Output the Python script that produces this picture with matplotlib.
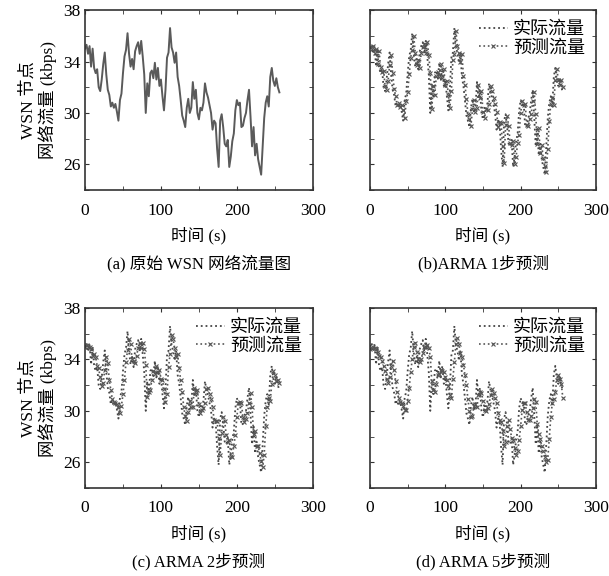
import numpy as np
import matplotlib
matplotlib.use("Agg")
import matplotlib.pyplot as plt
from matplotlib.ticker import MultipleLocator

plt.rcParams['font.family'] = ['Liberation Serif', 'Noto Sans CJK SC']
plt.rcParams['mathtext.fontset'] = 'cm'

# time axis (s)
time_s = list(range(0, 257, 2))

actual = [35.0, 35.3, 34.6, 35.2, 33.6, 35.0, 33.5, 33.1, 33.4, 32.0, 31.7, 32.6, 33.8, 34.7, 33.0, 31.8,
          31.4, 30.5, 30.8, 30.4, 30.7, 30.1, 29.4, 31.0, 31.5, 33.1, 34.4, 34.9, 36.2, 34.6, 33.6, 34.2,
          33.4, 34.8, 35.2, 35.5, 34.6, 35.6, 34.4, 33.0, 30.0, 32.3, 31.3, 33.1, 33.3, 32.7, 33.9, 32.6,
          33.5, 32.1, 32.6, 31.3, 30.2, 31.8, 34.3, 34.7, 36.6, 35.1, 34.7, 33.9, 34.7, 32.8, 32.1, 31.0,
          29.8, 29.4, 28.9, 30.4, 31.1, 30.0, 30.4, 32.4, 31.1, 31.8, 30.0, 29.5, 30.4, 30.2, 30.8, 32.3,
          31.6, 31.2, 30.6, 30.0, 28.7, 29.4, 29.2, 27.2, 25.8, 29.4, 29.9, 28.9, 27.6, 27.4, 27.9, 25.8,
          26.6, 27.8, 28.4, 30.2, 31.0, 30.6, 30.8, 28.9, 29.0, 29.6, 30.0, 31.0, 31.8, 29.7, 27.4, 28.9,
          26.7, 27.6, 26.4, 25.8, 25.2, 27.4, 29.6, 30.8, 31.3, 30.5, 32.8, 33.5, 32.5, 32.1, 32.7, 32.0,
          31.6]

pred_1step = [35.1, 35.0, 35.2, 34.7, 35.0, 33.8, 34.8, 33.6, 33.2, 33.3, 32.1, 31.8, 32.5, 33.7, 34.5, 33.1,
              31.9, 31.3, 30.6, 30.8, 30.5, 30.6, 30.2, 29.6, 30.9, 31.6, 33.0, 34.3, 34.9, 36.0, 34.7, 33.7,
              34.1, 33.5, 34.7, 35.1, 35.4, 34.7, 35.5, 34.5, 33.1, 30.3, 32.1, 31.4, 32.9, 33.2, 32.8, 33.8,
              32.7, 33.4, 32.2, 32.5, 31.4, 30.4, 31.7, 34.1, 34.6, 36.4, 35.2, 34.7, 34.0, 34.6, 32.9, 32.2,
              31.1, 29.9, 29.5, 29.0, 30.3, 31.0, 30.1, 30.4, 32.2, 31.2, 31.7, 30.1, 29.6, 30.3, 30.2, 30.7,
              32.1, 31.7, 31.2, 30.7, 30.1, 28.9, 29.3, 29.2, 27.4, 26.1, 29.1, 29.8, 29.0, 27.7, 27.5, 27.8,
              26.0, 26.6, 27.7, 28.3, 30.0, 30.9, 30.6, 30.7, 29.1, 29.0, 29.5, 29.9, 30.9, 31.6, 29.9, 27.6,
              28.8, 26.9, 27.5, 26.5, 25.9, 25.4, 27.2, 29.4, 30.7, 31.2, 30.6, 32.6, 33.4, 32.6, 32.2, 32.6,
              32.0]

pred_2step = [35.0, 35.1, 35.0, 35.0, 34.8, 34.3, 34.4, 34.2, 33.5, 33.3, 32.6, 31.9, 32.2, 33.2, 34.2, 33.7,
              32.4, 31.6, 30.9, 30.7, 30.6, 30.5, 30.3, 29.8, 30.4, 31.3, 32.4, 33.8, 34.7, 35.6, 35.2, 34.0,
              33.9, 33.7, 34.3, 34.9, 35.3, 34.9, 35.3, 34.8, 33.6, 31.1, 31.5, 31.6, 32.4, 33.1, 32.9, 33.5,
              33.0, 33.2, 32.5, 32.4, 31.7, 30.7, 31.3, 33.4, 34.4, 35.9, 35.6, 34.9, 34.2, 34.4, 33.3, 32.4,
              31.5, 30.3, 29.6, 29.2, 29.9, 30.8, 30.3, 30.3, 31.8, 31.4, 31.6, 30.5, 29.8, 30.1, 30.2, 30.6,
              31.7, 31.8, 31.3, 30.9, 30.3, 29.3, 29.2, 29.2, 27.9, 26.6, 28.3, 29.5, 29.2, 28.1, 27.6, 27.7,
              26.5, 26.4, 27.3, 28.1, 29.5, 30.6, 30.7, 30.6, 29.5, 29.1, 29.4, 29.8, 30.6, 31.4, 30.3, 28.2,
              28.4, 27.3, 27.3, 26.7, 26.1, 25.6, 26.6, 28.8, 30.3, 31.0, 30.8, 32.1, 33.1, 32.8, 32.3, 32.4,
              32.2]

pred_5step = [34.8, 34.9, 35.0, 34.9, 34.8, 34.6, 34.3, 34.2, 33.9, 33.5, 33.1, 32.5, 32.2, 32.6, 33.5, 33.9,
              33.2, 32.3, 31.5, 31.0, 30.7, 30.6, 30.4, 30.1, 30.1, 30.8, 31.8, 33.0, 34.0, 35.0, 35.3, 34.6,
              34.0, 33.8, 34.0, 34.5, 35.0, 35.0, 35.1, 34.9, 34.2, 32.3, 31.6, 31.5, 32.1, 32.8, 32.9, 33.2,
              33.1, 33.0, 32.6, 32.4, 31.9, 31.2, 31.0, 32.5, 33.8, 35.2, 35.7, 35.2, 34.5, 34.2, 33.6, 32.8,
              32.0, 30.9, 30.0, 29.5, 29.6, 30.4, 30.5, 30.3, 31.2, 31.5, 31.4, 30.8, 30.1, 30.0, 30.2, 30.5,
              31.2, 31.7, 31.4, 31.0, 30.6, 29.8, 29.3, 29.1, 28.4, 27.3, 27.6, 28.8, 29.3, 28.6, 27.9, 27.7,
              27.1, 26.6, 26.9, 27.7, 28.8, 30.1, 30.6, 30.6, 29.9, 29.3, 29.3, 29.6, 30.2, 30.9, 30.7, 29.0,
              28.2, 27.8, 27.3, 26.9, 26.4, 26.0, 26.2, 27.8, 29.5, 30.6, 30.9, 31.5, 32.4, 32.8, 32.5, 32.1,
              31.0]

x_ticks = [0, 100, 200, 300]
y_ticks = [26, 30, 34, 38]
ylabel = "WSN 节点\n网络流量 (kbps)"
xlabel = "时间 (s)"
captions = ["(a) 原始 WSN 网络流量图", "(b)ARMA 1步预测", "(c) ARMA 2步预测", "(d) ARMA 5步预测"]
legend_labels = ["实际流量", "预测流量"]
preds = [None, pred_1step, pred_2step, pred_5step]

fig = plt.figure(figsize=(6.09, 5.76), dpi=100)
positions = [
    [0.1396, 0.670, 0.374, 0.3125],
    [0.6076, 0.670, 0.371, 0.3125],
    [0.1396, 0.1528, 0.374, 0.3125],
    [0.6076, 0.1528, 0.371, 0.3125],
]

for i, pos in enumerate(positions):
    ax = fig.add_axes(pos)
    if preds[i] is None:
        ax.plot(time_s, actual, color='#5a5a5a', lw=1.4)
    else:
        ax.plot(time_s, actual, color='#444444', lw=1.3, ls=':', label=legend_labels[0])
        ax.plot(time_s, preds[i], color='#555555', lw=1.2, ls=':', marker='x',
                markersize=3.5, markeredgewidth=0.8, label=legend_labels[1])
        ax.legend(loc='upper right', frameon=False, fontsize=13, handlelength=1.6,
                  handletextpad=0.3, borderaxespad=0.2, labelspacing=0.1)
    ax.set_xlim(0, 300)
    ax.set_ylim(24, 38)
    ax.set_xticks(x_ticks)
    ax.xaxis.set_minor_locator(MultipleLocator(50))
    ax.set_yticks(y_ticks)
    ax.yaxis.set_minor_locator(MultipleLocator(2))
    ax.tick_params(which='both', direction='in', top=True, right=True, labelsize=12.5,
                   color='#333333')
    ax.tick_params(which='major', length=3)
    ax.tick_params(which='minor', length=3)
    ax.tick_params(axis='x', pad=9)
    for s in ax.spines.values():
        s.set_linewidth(1.2)
        s.set_color('#333333')
    if i % 2 == 1:
        ax.set_yticklabels([])
    else:
        ax.set_ylabel(ylabel, fontsize=12.5, linespacing=1.1, labelpad=4)
    ax.set_xlabel(xlabel, fontsize=12, labelpad=6)
    ax.text(0.5, -0.41, captions[i], transform=ax.transAxes, ha='center', va='center',
            fontsize=12)

fig.savefig("out.png", dpi=100)
